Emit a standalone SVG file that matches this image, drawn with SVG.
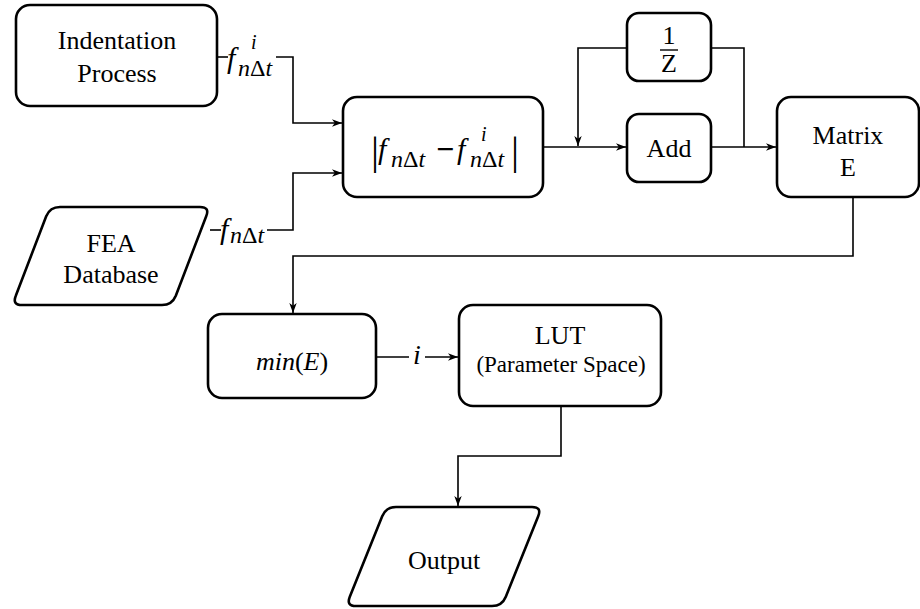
<svg xmlns="http://www.w3.org/2000/svg" width="920" height="609" viewBox="0 0 920 609">
  <style>
    .box { fill: #fff; stroke: #000; stroke-width: 2.6; }
    .wire { fill: none; stroke: #000; stroke-width: 1.6; }
    .lbl { font-family: "Liberation Serif", "Times New Roman", serif; font-size: 26px; fill: #000; text-anchor: middle; }
    .sm { font-size: 23px; }
    .m { font-family: "Liberation Serif", "Times New Roman", serif; fill: #000; }
    .it { font-style: italic; }
  </style>
  <defs>
    <marker id="arr" markerUnits="userSpaceOnUse" markerWidth="11" markerHeight="9" refX="10" refY="4.5" orient="auto">
      <path d="M0,0.8 L10,4.5 L0,8.2 L2.8,4.5 Z" fill="#000"/>
    </marker>
  </defs>

  <!-- connectors -->
  <g id="connectors">
    <!-- Indentation Process to difference block -->
    <polyline class="wire" points="217,57 228,57"/>
    <polyline class="wire" points="276,57 293,57 293,123 342,123" marker-end="url(#arr)"/>
    <!-- FEA Database to difference block -->
    <polyline class="wire" points="210,230 221,230"/>
    <polyline class="wire" points="267,230 293,230 293,173 342,173" marker-end="url(#arr)"/>
    <!-- difference to Add -->
    <polyline class="wire" points="543,147 626,147" marker-end="url(#arr)"/>
    <!-- Add to Matrix E -->
    <polyline class="wire" points="711,147 776,147" marker-end="url(#arr)"/>
    <!-- feedback loop through 1/Z -->
    <polyline class="wire" points="744,147 744,48 711,48"/>
    <polyline class="wire" points="627,48 578,48 578,146" marker-end="url(#arr)"/>
    <!-- Matrix E to min(E) -->
    <polyline class="wire" points="853,197 853,256 293,256 293,313" marker-end="url(#arr)"/>
    <!-- min(E) to LUT -->
    <polyline class="wire" points="376,357 409,357"/>
    <polyline class="wire" points="425,357 458,357" marker-end="url(#arr)"/>
    <!-- LUT to Output -->
    <polyline class="wire" points="561,406 561,456 458,456 458,506" marker-end="url(#arr)"/>

    <!-- connector labels -->
    <text class="m"><tspan class="it" x="227" y="68" font-size="30">f</tspan><tspan x="251" y="49" font-size="20" class="it">i</tspan><tspan x="238" y="76" font-size="24"><tspan class="it">n</tspan>Δ<tspan class="it">t</tspan></tspan></text>
    <text class="m"><tspan class="it" x="220" y="239" font-size="30">f</tspan><tspan x="230" y="243" font-size="24"><tspan class="it">n</tspan>Δ<tspan class="it">t</tspan></tspan></text>
    <text class="m it" x="417" y="364" font-size="28" text-anchor="middle">i</text>
  </g>

  <!-- nodes -->
  <g id="indentation">
    <rect class="box" x="16" y="5" width="201" height="101" rx="14"/>
    <text class="lbl" x="117" y="49">Indentation</text>
    <text class="lbl" x="117" y="82">Process</text>
  </g>

  <g id="fea">
    <path class="box" d="M60,207 L200,207 Q210,207 206.2,216.3 L175.8,295.7 Q172,305 162,305 L22,305 Q12,305 15.8,295.7 L46.2,216.3 Q50,207 60,207 Z"/>
    <text class="lbl" x="111" y="252">FEA</text>
    <text class="lbl" x="111" y="283">Database</text>
  </g>

  <g id="difference">
    <rect class="box" x="343" y="97" width="200" height="100" rx="14"/>
    <text class="m" x="375" y="164" font-size="40" text-anchor="middle">|</text>
    <text class="m"><tspan class="it" x="378" y="159" font-size="30">f</tspan><tspan x="391" y="167" font-size="24"><tspan class="it">n</tspan>Δ<tspan class="it">t</tspan></tspan></text>
    <text class="m" x="445" y="160" font-size="32" font-weight="bold" text-anchor="middle">−</text>
    <text class="m"><tspan class="it" x="457" y="159" font-size="30">f</tspan><tspan x="481" y="141" font-size="20" class="it">i</tspan><tspan x="470" y="167" font-size="24"><tspan class="it">n</tspan>Δ<tspan class="it">t</tspan></tspan></text>
    <text class="m" x="515" y="164" font-size="40" text-anchor="middle">|</text>
  </g>

  <g id="delay">
    <rect class="box" x="627" y="13" width="84" height="68" rx="12"/>
    <text class="lbl" x="669" y="44" font-size="24">1</text>
    <line x1="660" y1="50" x2="678" y2="50" stroke="#000" stroke-width="1.4"/>
    <text class="lbl" x="669" y="72" font-size="24">Z</text>
  </g>

  <g id="add">
    <rect class="box" x="627" y="114" width="84" height="68" rx="12"/>
    <text class="lbl" x="669" y="157">Add</text>
  </g>

  <g id="matrix">
    <rect class="box" x="777" y="97" width="142" height="100" rx="14"/>
    <text class="lbl" x="848" y="144">Matrix</text>
    <text class="lbl" x="848" y="176">E</text>
  </g>

  <g id="min">
    <rect class="box" x="208" y="314" width="168" height="84" rx="14"/>
    <text class="lbl" x="292" y="370" font-size="32"><tspan class="it">min</tspan>(<tspan class="it">E</tspan>)</text>
  </g>

  <g id="lut">
    <rect class="box" x="459" y="305" width="202" height="101" rx="14"/>
    <text class="lbl" x="560" y="344">LUT</text>
    <text class="lbl sm" x="561" y="372">(Parameter Space)</text>
  </g>

  <g id="output">
    <path class="box" d="M396,507 L532,507 Q542,507 538.2,516.3 L505.8,596.7 Q502,606 492,606 L356,606 Q346,606 349.8,596.7 L382.2,516.3 Q386,507 396,507 Z"/>
    <text class="lbl" x="444" y="569">Output</text>
  </g>
</svg>
